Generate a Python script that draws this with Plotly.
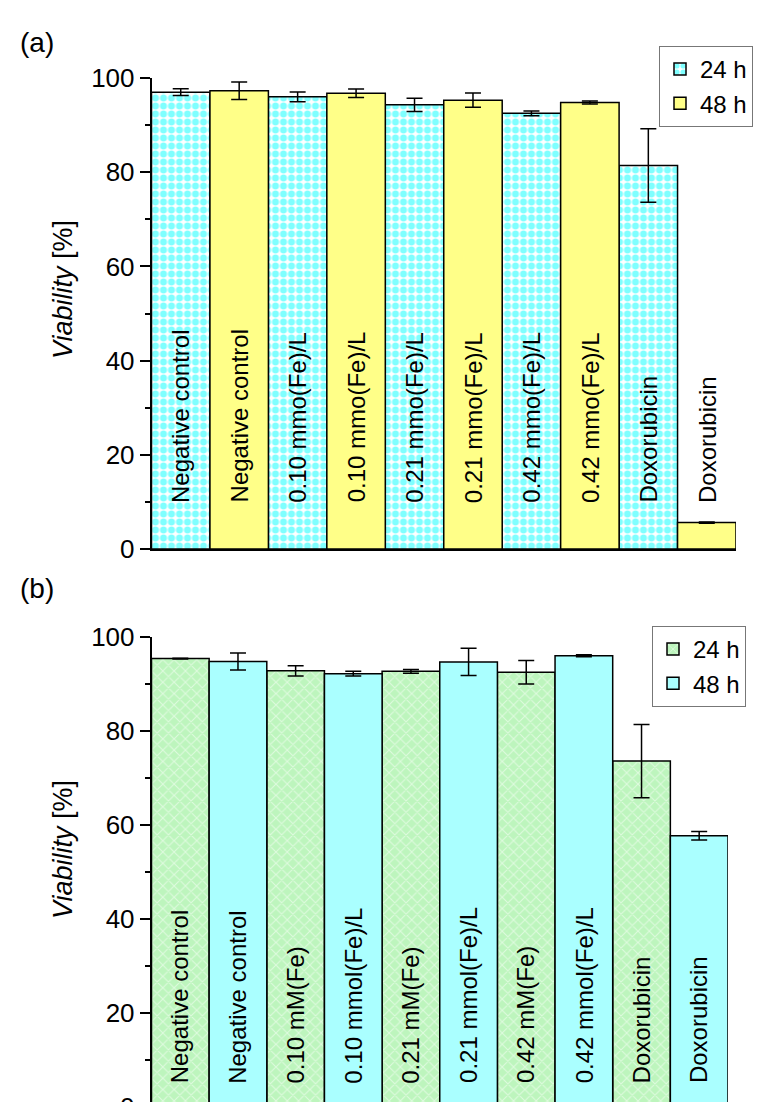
import plotly.graph_objects as go

# ---------------- data ----------------
labels_a = ["Negative control", "Negative control",
            "0.10 mmo(Fe)/L", "0.10 mmo(Fe)/L",
            "0.21 mmo(Fe)/L", "0.21 mmo(Fe)/L",
            "0.42 mmo(Fe)/L", "0.42 mmo(Fe)/L",
            "Doxorubicin", "Doxorubicin"]
labels_b = ["Negative control", "Negative control",
            "0.10 mM(Fe)", "0.10 mmol(Fe)/L",
            "0.21 mM(Fe)", "0.21 mmol(Fe)/L",
            "0.42 mM(Fe)", "0.42 mmol(Fe)/L",
            "Doxorubicin", "Doxorubicin"]

a_24 = [97.0, 96.0, 94.3, 92.5, 81.4]
a_24_err = [0.7, 1.05, 1.4, 0.5, 7.8]
a_48 = [97.3, 96.75, 95.3, 94.8, 5.6]
a_48_err = [1.85, 0.9, 1.5, 0.3, 0.15]

b_24 = [95.4, 92.8, 92.7, 92.5, 73.6]
b_24_err = [0.1, 1.1, 0.4, 2.5, 7.8]
b_48 = [94.8, 92.2, 94.7, 96.0, 57.7]
b_48_err = [1.8, 0.5, 2.9, 0.2, 0.9]

series_names = ["24 h", "48 h"]
y_ticks = [0, 20, 40, 60, 80, 100]

# ---------------- styling ----------------
FONT = "Arial, Liberation Sans, sans-serif"
n_groups = len(a_24)
x24 = [2 * i for i in range(n_groups)]
x48 = [2 * i + 1 for i in range(n_groups)]

line_style = dict(color="black", width=1.5)
err_style = dict(type="data", visible=True, color="black", thickness=1.5, width=8)

fig = go.Figure()

# Panel (a)
fig.add_trace(go.Bar(
    x=x24, y=a_24, width=1, name=series_names[0],
    error_y=dict(array=a_24_err, **err_style),
    marker=dict(color="white", line=line_style,
                pattern=dict(shape=".", fgcolor="#00FFFF", bgcolor="white",
                             size=8, solidity=0.6, fillmode="overlay")),
    xaxis="x", yaxis="y", legend="legend"))
fig.add_trace(go.Bar(
    x=x48, y=a_48, width=1, name=series_names[1],
    error_y=dict(array=a_48_err, **err_style),
    marker=dict(color="#FFFF88", line=line_style),
    xaxis="x", yaxis="y", legend="legend"))

# Panel (b)
fig.add_trace(go.Bar(
    x=x24, y=b_24, width=1, name=series_names[0],
    error_y=dict(array=b_24_err, **err_style),
    marker=dict(color="#BDF5BD", line=line_style,
                pattern=dict(shape="x", fgcolor="white", bgcolor="#BDF5BD",
                             size=8, solidity=0.25, fillmode="overlay")),
    xaxis="x2", yaxis="y2", legend="legend2"))
fig.add_trace(go.Bar(
    x=x48, y=b_48, width=1, name=series_names[1],
    error_y=dict(array=b_48_err, **err_style),
    marker=dict(color="#AAFFFF", line=line_style),
    xaxis="x2", yaxis="y2", legend="legend2"))

W, H = 764, 1102

def px_x(p):
    return p / W

def px_y(p):
    return 1 - p / H

yaxis_common = dict(
    range=[0, 100], tickvals=y_ticks, ticks="outside", ticklen=10, tickwidth=1.5,
    tickcolor="black", showline=True, linecolor="black", linewidth=1.5,
    showgrid=False, zeroline=False, tickfont=dict(family=FONT, size=26, color="black"),
    minor=dict(dtick=10, ticks="outside", ticklen=5, tickwidth=1.5, tickcolor="black"),
    automargin=False, ticklabeloverflow="allow",
)
xaxis_common = dict(
    range=[-0.5, 2 * n_groups - 0.5], showticklabels=False, ticks="",
    showline=True, linecolor="black", linewidth=1.5, showgrid=False,
    zeroline=False, automargin=False,
)

fig.update_layout(
    width=W, height=H,
    margin=dict(l=0, r=0, t=0, b=0),
    paper_bgcolor="white", plot_bgcolor="white",
    barmode="overlay",
    font=dict(family=FONT, color="black"),
    xaxis=dict(domain=[px_x(143.5), px_x(728)], anchor="y", **xaxis_common),
    yaxis=dict(domain=[px_y(541), px_y(70)], anchor="x", **yaxis_common),
    xaxis2=dict(domain=[px_x(143.5), px_x(720)], anchor="y2", **xaxis_common),
    yaxis2=dict(domain=[px_y(1099), px_y(629)], anchor="x2", **yaxis_common),
    legend=dict(x=px_x(651), y=px_y(38), xanchor="left", yanchor="top",
                bgcolor="white", bordercolor="#777777", borderwidth=1,
                font=dict(family=FONT, size=24, color="black"),
                tracegroupgap=0, itemwidth=30),
    legend2=dict(x=px_x(644), y=px_y(618), xanchor="left", yanchor="top",
                 bgcolor="white", bordercolor="#777777", borderwidth=1,
                 font=dict(family=FONT, size=24, color="black"),
                 tracegroupgap=0, itemwidth=30),
    showlegend=True,
)

annotations = []
# bar labels
for axis_suffix, labels, base_y in (("", labels_a, 9.4), ("2", labels_b, 4.6)):
    for i, lab in enumerate(labels):
        annotations.append(dict(
            x=i, y=base_y, xref="x" + axis_suffix, yref="y" + axis_suffix,
            text=lab, textangle=-90, showarrow=False,
            xanchor="center", yanchor="bottom",
            font=dict(family=FONT, size=24, color="black")))

# y-axis titles
for yc in (282, 842):
    annotations.append(dict(
        x=px_x(55), y=px_y(yc), xref="paper", yref="paper",
        text="<i>Viability</i> [%]", textangle=-90, showarrow=False,
        xanchor="center", yanchor="middle",
        font=dict(family=FONT, size=27, color="black")))

# panel labels
for txt, yc in (("(a)", 34), ("(b)", 580)):
    annotations.append(dict(
        x=px_x(10), y=px_y(yc), xref="paper", yref="paper",
        text=txt, showarrow=False, xanchor="left", yanchor="middle",
        font=dict(family=FONT, size=28, color="black")))

fig.update_layout(annotations=annotations)

fig.write_html("out.html")
